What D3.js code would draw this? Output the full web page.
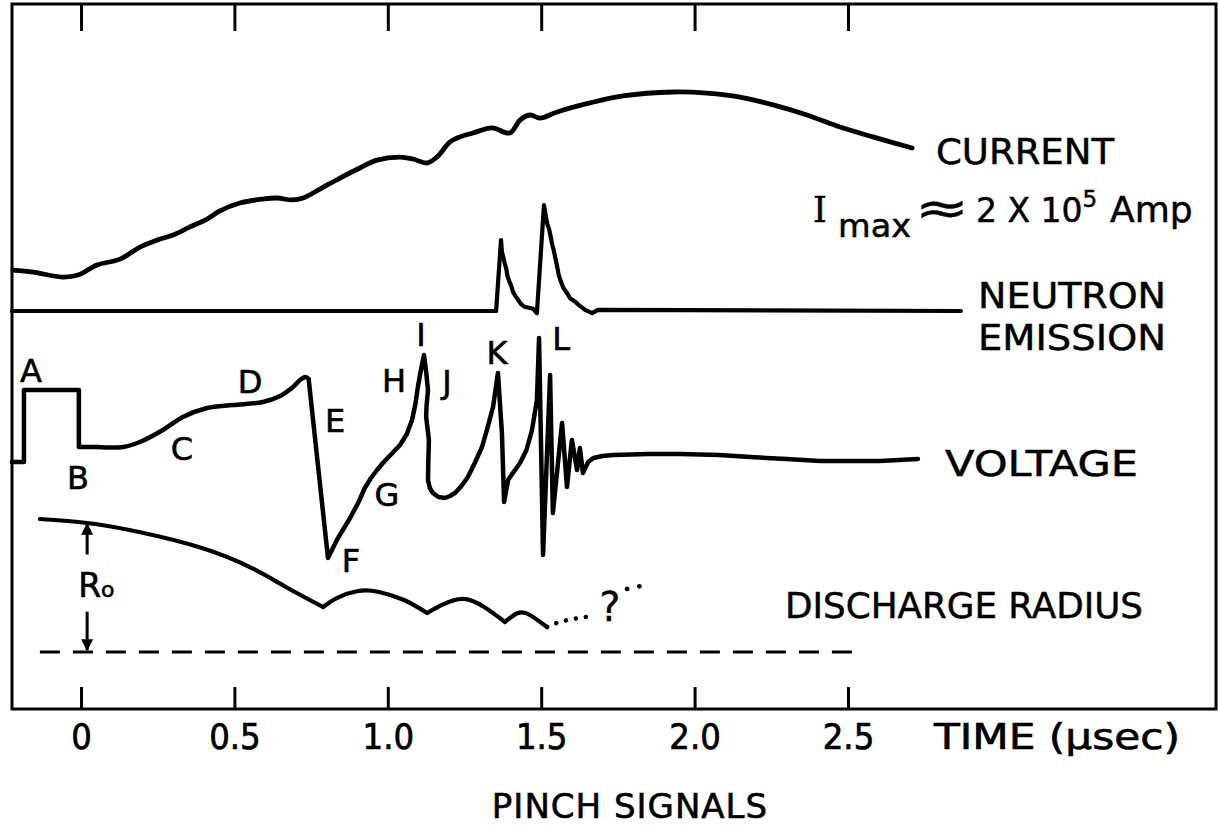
<!DOCTYPE html>
<html><head><meta charset="utf-8">
<script src="https://cdn.jsdelivr.net/npm/d3@7"></script>
<style>body{margin:0;background:#fff} svg{display:block}</style>
</head><body>
<svg id="c" width="1218" height="826"></svg>
<script>
// ---------- DATA (time in µs) ----------
const timeTicks = [0, 0.5, 1, 1.5, 2, 2.5];
const timeTickLabels = ["0", "0.5", "1.0", "1.5", "2.0", "2.5"];

// current, I / Imax
const current = [[-0.222,0.187],[-0.156,0.178],[-0.062,0.155],[-0.010,0.164],[0.052,0.210],[0.127,0.237],[0.192,0.292],[0.248,0.324],[0.300,0.347],[0.355,0.384],[0.411,0.420],[0.453,0.457],[0.518,0.493],[0.593,0.511],[0.639,0.516],[0.688,0.507],[0.724,0.516],[0.779,0.557],[0.844,0.607],[0.909,0.653],[0.965,0.689],[1.040,0.703],[1.082,0.694],[1.128,0.676],[1.160,0.703],[1.203,0.772],[1.235,0.795],[1.278,0.813],[1.340,0.836],[1.398,0.813],[1.431,0.872],[1.463,0.895],[1.496,0.881],[1.552,0.909],[1.659,0.950],[1.767,0.982],[1.930,1.000],[2.040,0.995],[2.148,0.977],[2.256,0.941],[2.366,0.895],[2.474,0.840],[2.581,0.795],[2.709,0.744]];

// neutron emission (relative)
const neutron = [[-0.225,0],[1.353,0],[1.369,0.67],[1.372,0.56],[1.377,0.50],[1.382,0.44],[1.386,0.40],[1.390,0.33],[1.396,0.28],[1.402,0.24],[1.408,0.18],[1.416,0.14],[1.424,0.11],[1.433,0.07],[1.445,0.04],[1.460,0.03],[1.474,0.02],[1.486,-0.02],[1.509,1.0],[1.516,0.88],[1.520,0.82],[1.526,0.77],[1.531,0.70],[1.535,0.64],[1.541,0.57],[1.546,0.50],[1.552,0.42],[1.557,0.34],[1.564,0.28],[1.572,0.22],[1.582,0.18],[1.594,0.12],[1.610,0.09],[1.625,0.05],[1.643,0.01],[1.666,-0.02],[1.685,0.01],[2.868,0]];

// voltage (relative)
const voltagePulse = [[-0.225,0],[-0.186,0],[-0.186,0.72],[-0.007,0.72],[-0.007,0.15],[0.052,0.15]];
const voltageSlow = [[0.052,0.15],[0.137,0.15],[0.192,0.20],[0.267,0.32],[0.332,0.45],[0.411,0.54],[0.495,0.57],[0.593,0.60],[0.649,0.66],[0.691,0.75],[0.718,0.83],[0.732,0.85],[0.742,0.83]];
const voltageFast = [[0.742,0.83],[0.805,-0.96],[0.834,-0.78],[0.877,-0.56],[0.905,-0.40],[0.925,-0.26],[0.945,-0.16],[0.965,-0.08],[0.984,-0.01],[1.012,0.08],[1.040,0.17],[1.062,0.28],[1.079,0.42],[1.090,0.58],[1.098,0.75],[1.108,0.92],[1.118,1.07],[1.125,0.90],[1.131,0.72],[1.126,0.55],[1.125,0.45],[1.131,0.30],[1.134,0.22],[1.132,0.00],[1.131,-0.18],[1.137,-0.26],[1.147,-0.31],[1.165,-0.35],[1.186,-0.36],[1.203,-0.34],[1.219,-0.31],[1.240,-0.24],[1.261,-0.15],[1.285,0.00],[1.307,0.15],[1.323,0.32],[1.343,0.55],[1.359,0.89],[1.372,0.29],[1.379,-0.40],[1.392,-0.18],[1.410,-0.10],[1.431,-0.01],[1.452,0.12],[1.470,0.32],[1.486,0.62],[1.493,1.24],[1.506,-0.93],[1.529,0.87],[1.538,-0.51],[1.568,0.39],[1.584,-0.25],[1.600,0.22],[1.617,-0.08],[1.626,0.14],[1.636,-0.11],[1.653,0.0],[1.670,0.04],[1.700,0.06],[1.734,0.07],[1.850,0.08],[1.952,0.08],[2.080,0.07],[2.181,0.05],[2.300,0.03],[2.409,0.01],[2.604,0.01],[2.728,0.03]];

// voltage point labels [letter, t, v]
const voltageLabels = [["A",-0.163,0.92],["B",-0.010,-0.15],["C",0.329,0.14],["D",0.551,0.81],["E",0.828,0.42],["F",0.880,-0.98],["G",0.997,-0.32],["H",1.020,0.82],["I",1.108,1.28],["J",1.193,0.81],["K",1.356,1.10],["L",1.565,1.24]];

// discharge radius, r / R0 (arcs between pinches)
const radiusArcs = [
  [[-0.134,1.023],[0.020,0.992],[0.189,0.923],[0.394,0.800],[0.557,0.646],[0.668,0.500],[0.789,0.346]],
  [[0.789,0.346],[0.834,0.415],[0.903,0.469],[0.971,0.462],[1.053,0.400],[1.128,0.300]],
  [[1.128,0.300],[1.177,0.362],[1.245,0.408],[1.314,0.346],[1.382,0.231]],
  [[1.382,0.231],[1.424,0.300],[1.463,0.285],[1.519,0.192]]
];
const radiusExtrap = [[1.519,0.192],[1.575,0.24],[1.675,0.28]];
const radiusAfterDots = [[1.780,0.485],[1.820,0.505]];
const radiusQuestion = [1.724, 0.24];
const radiusAxis = [[-0.134,0],[2.55,0]];
const r0ArrowT = 0.02;

// ---------- SCALES ----------
const svg = d3.select("#c");
const x  = d3.scaleLinear().domain([0, 2.5]).range([81, 848]);
const yI = d3.scaleLinear().domain([0, 1]).range([311, 92]);
const yN = d3.scaleLinear().domain([0, 1]).range([311, 205]);
const yV = d3.scaleLinear().domain([0, 1]).range([462, 362]);
const yR = d3.scaleLinear().domain([0, 1]).range([652, 522]);

const ink = "#000";
const smooth = d3.curveCatmullRom.alpha(0.5);
const SANS = "'DejaVu Sans',sans-serif";
const COND = "'DejaVu Sans Condensed','DejaVu Sans',sans-serif";

// ---------- FRAME & AXES ----------
svg.append("rect").attr("x",12).attr("y",4).attr("width",1204).attr("height",705)
  .attr("fill","none").attr("stroke",ink).attr("stroke-width",3);

const axB = svg.append("g").attr("transform","translate(0,709)")
  .call(d3.axisBottom(x).tickValues(timeTicks).tickSizeInner(-22).tickSizeOuter(0)
        .tickFormat((d,i)=>timeTickLabels[i]));
axB.select(".domain").remove();
axB.selectAll(".tick line").attr("stroke",ink).attr("stroke-width",3);
axB.selectAll(".tick text").attr("y",40).attr("dy",0)
  .style("font-family",COND).style("font-size","36px")
  .attr("fill",ink).attr("stroke",ink).attr("stroke-width",0.7);

const axT = svg.append("g").attr("transform","translate(0,4)")
  .call(d3.axisTop(x).tickValues(timeTicks).tickSizeInner(-27).tickSizeOuter(0).tickFormat(""));
axT.select(".domain").remove();
axT.selectAll(".tick line").attr("stroke",ink).attr("stroke-width",3);

// ---------- TRACES ----------
function trace(data, y, curve, w) {
  svg.append("path").datum(data)
    .attr("d", d3.line().x(d=>x(d[0])).y(d=>y(d[1])).curve(curve))
    .attr("fill","none").attr("stroke",ink).attr("stroke-width",w)
    .attr("stroke-linejoin","round").attr("stroke-linecap","round");
}
trace(current, yI, smooth, 4.8);
trace(neutron, yN, d3.curveLinear, 4.2);
trace(voltagePulse, yV, d3.curveLinear, 4.5);
trace(voltageSlow, yV, smooth, 4.5);
trace(voltageFast, yV, d3.curveLinear, 4.5);
radiusArcs.forEach(a => trace(a, yR, d3.curveNatural, 4.2));

// extrapolated radius (dotted)
svg.append("path").datum(radiusExtrap)
  .attr("d", d3.line().x(d=>x(d[0])).y(d=>yR(d[1])).curve(d3.curveNatural))
  .attr("fill","none").attr("stroke",ink).attr("stroke-width",4.5)
  .attr("stroke-linecap","round").attr("stroke-dasharray","0.1,10");
svg.selectAll(".adot").data(radiusAfterDots).enter().append("circle")
  .attr("cx",d=>x(d[0])).attr("cy",d=>yR(d[1])).attr("r",2.4).attr("fill",ink);
svg.append("text").attr("x",x(radiusQuestion[0])).attr("y",yR(radiusQuestion[1]))
  .attr("text-anchor","middle").attr("stroke",ink).attr("stroke-width",0.3)
  .style("font-family",SANS).style("font-size","40px").text("?");

// dashed zero-radius line
svg.append("path").datum(radiusAxis)
  .attr("d", d3.line().x(d=>x(d[0])).y(d=>yR(d[1])))
  .attr("stroke",ink).attr("stroke-width",3).attr("stroke-dasharray","20,13");

// R0 arrows
const defs = svg.append("defs");
defs.append("marker").attr("id","ah").attr("viewBox","0 0 10 10").attr("refX",9).attr("refY",5)
  .attr("markerWidth",4).attr("markerHeight",4).attr("orient","auto")
  .append("path").attr("d","M0,0 L10,5 L0,10 Z").attr("fill",ink);
[[0.75,0.985],[0.31,0.015]].forEach(([a,b]) => {
  svg.append("line").attr("x1",x(r0ArrowT)).attr("x2",x(r0ArrowT))
    .attr("y1",yR(a)).attr("y2",yR(b)).attr("stroke",ink).attr("stroke-width",3)
    .attr("marker-end","url(#ah)");
});
const r0 = svg.append("text").attr("x",x(r0ArrowT)-9).attr("y",yR(0.42))
  .attr("stroke",ink).attr("stroke-width",0.6)
  .style("font-family",SANS).style("font-size","33px");
r0.append("tspan").text("R");
r0.append("tspan").style("font-size","22px").text("o");

// voltage letters
svg.selectAll(".vl").data(voltageLabels).enter().append("text")
  .attr("x",d=>x(d[1])).attr("y",d=>yV(d[2])).attr("dy","0.36em")
  .attr("text-anchor","middle").attr("stroke",ink).attr("stroke-width",0.6)
  .style("font-family",SANS).style("font-size","32px")
  .text(d=>d[0]);

// ---------- RIGHT-HAND LABELS ----------
const lab = (t, xx, yy, len, size) => svg.append("text").attr("x",xx).attr("y",yy)
  .attr("textLength",len).attr("lengthAdjust","spacingAndGlyphs")
  .attr("stroke",ink).attr("stroke-width",0.5)
  .style("font-family",SANS).style("font-size",(size||35)+"px").text(t);
lab("CURRENT", 936, 164, 178);
lab("NEUTRON", 978, 308, 188);
lab("EMISSION", 978, 350, 188);
lab("VOLTAGE", 945, 476, 193);
lab("DISCHARGE RADIUS", 785, 618, 358);

// I_max ≈ 2 X 10^5 Amp
const im = svg.append("g").style("font-family",SANS).attr("fill",ink)
  .attr("stroke",ink).attr("stroke-width",0.5);
im.append("text").attr("x",813).attr("y",222).style("font-family","'DejaVu Serif',serif").style("font-size","35px").text("I");
im.append("text").attr("x",838).attr("y",237).attr("textLength",73).attr("lengthAdjust","spacingAndGlyphs").style("font-size","32px").text("max");
im.append("text").attr("x",915).attr("y",224).attr("textLength",54).attr("lengthAdjust","spacingAndGlyphs").style("font-size","46px").text("≈");
const val = im.append("text").attr("x",976).attr("y",222).style("font-size","33px");
val.append("tspan").text("2 X 10");
val.append("tspan").attr("dy",-15).style("font-size","23px").text("5");
val.append("tspan").attr("x",1110).attr("dy",15).style("font-size","36px").text("Amp");

// axis title & caption
svg.append("text").attr("x",934).attr("y",749).attr("textLength",246).attr("lengthAdjust","spacingAndGlyphs")
  .attr("stroke",ink).attr("stroke-width",0.6)
  .style("font-family",COND).style("font-size","36px")
  .text("TIME (µsec)");
svg.append("text").attr("x",630).attr("y",818).attr("text-anchor","middle")
  .attr("stroke",ink).attr("stroke-width",0.6)
  .style("font-family",SANS).style("font-size","34px").style("letter-spacing","1px")
  .text("PINCH SIGNALS");
</script>
</body></html>
